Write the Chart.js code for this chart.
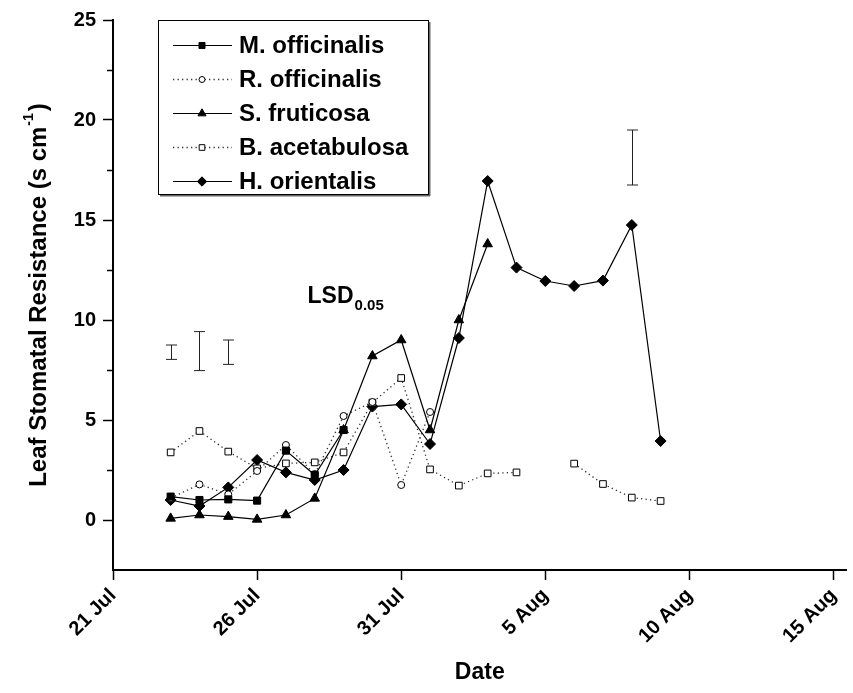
<!DOCTYPE html>
<html>
<head>
<meta charset="utf-8">
<title>Leaf Stomatal Resistance</title>
<script src="https://cdn.jsdelivr.net/npm/chart.js@4.4.1/dist/chart.umd.min.js"></script>
<style>
  html, body { margin: 0; padding: 0; background: #fff; }
  #wrap { width: 853px; height: 693px; }
</style>
</head>
<body>
<div id="wrap"><canvas id="chart" width="853" height="693"></canvas></div>
<script>
// Sampling dates; 21 Jul is day 0 on the x axis
const dates = ['23 Jul', '24 Jul', '25 Jul', '26 Jul', '27 Jul', '28 Jul', '29 Jul', '30 Jul', '31 Jul',
  '1 Aug', '2 Aug', '3 Aug', '4 Aug', '5 Aug', '6 Aug', '7 Aug', '8 Aug', '9 Aug'];

// Leaf stomatal resistance (s cm-1) per species
const mOfficinalis = [1.17, 1.0, 1.03, 0.97, 3.47, 2.25, 4.5, null, null, null, null, null, null, null, null, null, null, null];
const rOfficinalis = [1.1, 1.78, 1.28, 2.45, 3.75, 2.3, 5.2, 5.9, 1.75, 5.4, null, null, null, null, null, null, null, null];
const sFruticosa = [0.08, 0.25, 0.17, 0.03, 0.25, 1.08, 4.5, 8.2, 9.0, 4.5, 10.0, 13.8, null, null, null, null, null, null];
const bAcetabulosa = [3.38, 4.45, 3.42, 2.58, 2.83, 2.88, 3.38, 5.87, 7.1, 2.53, 1.72, 2.33, 2.38, null, 2.82, 1.8, 1.12, 0.95];
const hOrientalis = [1.0, 0.7, 1.63, 3.0, 2.38, 2.0, 2.5, 5.67, 5.78, 3.8, 9.1, 16.95, 12.62, 11.95, 11.7, 11.97, 14.75, 3.95];

// LSD (0.05) bars
const lsdDates = ['23 Jul', '24 Jul', '25 Jul', '8 Aug'];
const lsdLow = [8.03, 7.47, 7.78, 16.75];
const lsdHigh = [8.75, 9.42, 9.0, 19.5];

// Axis ticks
const xTickLabels = ['21 Jul', '26 Jul', '31 Jul', '5 Aug', '10 Aug', '15 Aug'];
const yTickValues = [0, 5, 10, 15, 20, 25];
const yMinorValues = [2.5, 7.5, 12.5, 17.5, 22.5];

const FONT = "'Liberation Sans', Arial, sans-serif";

function dayOf(label) {
  const [d, m] = label.split(' ');
  return m === 'Jul' ? Number(d) - 21 : Number(d) + 10;
}

function series(label, values, style) {
  return Object.assign({
    label,
    data: values.map((v, i) => ({ x: dayOf(dates[i]), y: v })),
    borderColor: '#000',
    pointBorderColor: '#000',
    pointBorderWidth: 1,
    spanGaps: false,
    tension: 0
  }, style);
}

const solid = { borderWidth: 1.2, borderDash: [] };
const dotted = { borderWidth: 1.3, borderDash: [1.3, 3.2], borderColor: '#333' };

const datasets = [
  series('M. officinalis', mOfficinalis, Object.assign({ pointStyle: 'rect', pointRadius: 5, pointBackgroundColor: '#000' }, solid)),
  series('R. officinalis', rOfficinalis, Object.assign({ pointStyle: 'circle', pointRadius: 3.5, pointBackgroundColor: '#fff' }, dotted)),
  series('S. fruticosa', sFruticosa, Object.assign({ pointStyle: 'triangle', pointRadius: 5.5, pointBackgroundColor: '#000' }, solid)),
  series('B. acetabulosa', bAcetabulosa, Object.assign({ pointStyle: 'rect', pointRadius: 4.7, pointBackgroundColor: '#fff' }, dotted)),
  series('H. orientalis', hOrientalis, Object.assign({ pointStyle: 'rectRot', pointRadius: 5.5, pointBackgroundColor: '#000' }, solid))
];

// Legend box, LSD bars and labels, minor ticks, y title
const extras = {
  id: 'extras',
  afterDraw(chart) {
    const { ctx, chartArea } = chart;
    const xs = chart.scales.x, ys = chart.scales.y;
    ctx.save();

    // minor ticks on the y axis
    ctx.strokeStyle = '#000';
    ctx.lineWidth = 1.5;
    yMinorValues.forEach(v => {
      const y = Math.round(ys.getPixelForValue(v)) + 0.5;
      ctx.beginPath();
      ctx.moveTo(chartArea.left - 6, y);
      ctx.lineTo(chartArea.left, y);
      ctx.stroke();
    });

    // LSD bars
    ctx.strokeStyle = '#222';
    ctx.lineWidth = 1;
    lsdDates.forEach((d, i) => {
      const x = Math.round(xs.getPixelForValue(dayOf(d))) + 0.5;
      const y1 = ys.getPixelForValue(lsdLow[i]);
      const y2 = ys.getPixelForValue(lsdHigh[i]);
      ctx.beginPath();
      ctx.moveTo(x, y1); ctx.lineTo(x, y2);
      ctx.moveTo(x - 5.5, y1); ctx.lineTo(x + 5.5, y1);
      ctx.moveTo(x - 5.5, y2); ctx.lineTo(x + 5.5, y2);
      ctx.stroke();
    });

    // LSD label with subscript
    ctx.fillStyle = '#000';
    ctx.textBaseline = 'alphabetic';
    ctx.textAlign = 'left';
    const lx = xs.getPixelForValue(6.75), ly = ys.getPixelForValue(10.85);
    ctx.font = 'bold 23px ' + FONT;
    ctx.fillText('LSD', lx, ly);
    const lw = ctx.measureText('LSD').width;
    ctx.font = 'bold 15px ' + FONT;
    ctx.fillText('0.05', lx + lw + 1, ly + 7);

    // legend
    const box = { left: 158, top: 20, right: 428, bottom: 194 };
    ctx.fillStyle = '#fff';
    ctx.fillRect(box.left, box.top, box.right - box.left, box.bottom - box.top);
    ctx.strokeStyle = '#000';
    ctx.lineWidth = 1;
    ctx.strokeRect(box.left + 0.5, box.top + 0.5, box.right - box.left, box.bottom - box.top);
    ctx.fillStyle = '#666';
    ctx.fillRect(box.left + 2, box.bottom + 1, box.right - box.left, 1.5);
    ctx.fillRect(box.right + 1, box.top + 2, 1.5, box.bottom - box.top);

    chart.data.datasets.forEach((ds, i) => {
      const y = 45 + i * 34;
      ctx.strokeStyle = ds.borderColor;
      ctx.lineWidth = ds.borderWidth;
      ctx.setLineDash(ds.borderDash);
      ctx.beginPath();
      ctx.moveTo(173, y + 0.5);
      ctx.lineTo(232, y + 0.5);
      ctx.stroke();
      ctx.setLineDash([]);
      ctx.fillStyle = ds.pointBackgroundColor;
      ctx.strokeStyle = '#000';
      ctx.lineWidth = 1;
      Chart.helpers.drawPoint(ctx, { pointStyle: ds.pointStyle, rotation: 0, radius: ds.pointRadius * 0.85, borderWidth: 1 }, 202, y + 0.5);
      ctx.fillStyle = '#000';
      ctx.font = 'bold 24px ' + FONT;
      ctx.textBaseline = 'middle';
      ctx.fillText(ds.label, 239, y + 1);
    });

    // y axis title with superscript
    const main = 'Leaf Stomatal Resistance (s cm', sup = '-1', tail = ')';
    ctx.font = 'bold 24px ' + FONT;
    const w1 = ctx.measureText(main).width, w3 = ctx.measureText(tail).width;
    ctx.font = 'bold 14px ' + FONT;
    const w2 = ctx.measureText(sup).width;
    const total = w1 + w2 + w3 + 3;
    ctx.translate(39, (chartArea.top + chartArea.bottom) / 2);
    ctx.rotate(-Math.PI / 2);
    ctx.textBaseline = 'middle';
    ctx.font = 'bold 24px ' + FONT;
    ctx.fillText(main, -total / 2, 0);
    ctx.font = 'bold 14px ' + FONT;
    ctx.fillText(sup, -total / 2 + w1 + 1, -10);
    ctx.font = 'bold 24px ' + FONT;
    ctx.fillText(tail, -total / 2 + w1 + w2 + 3, 0);
    ctx.restore();
  }
};

new Chart(document.getElementById('chart'), {
  type: 'line',
  data: { datasets },
  options: {
    responsive: false,
    animation: false,
    layout: { padding: { top: 20, left: 0, right: 0, bottom: 0 } },
    plugins: { legend: { display: false }, tooltip: { enabled: false } },
    scales: {
      x: {
        type: 'linear',
        min: 0,
        max: 25.45,
        afterBuildTicks(scale) { scale.ticks = xTickLabels.map(l => ({ value: dayOf(l) })); },
        afterFit(scale) { scale.height = 123; scale.paddingLeft = 0; scale.paddingRight = 0; },
        ticks: {
          autoSkip: false,
          minRotation: 45,
          maxRotation: 45,
          padding: 4,
          color: '#000',
          font: { family: FONT, size: 20, weight: 'bold' },
          callback: v => xTickLabels.find(l => dayOf(l) === v) || ''
        },
        grid: { drawOnChartArea: false, drawTicks: true, tickLength: 10, tickWidth: 1.5, tickColor: '#000' },
        border: { display: true, color: '#000', width: 2 },
        title: {
          display: true,
          text: 'Date',
          color: '#000',
          font: { family: FONT, size: 23, weight: 'bold' },
          padding: { top: 0, bottom: 7 }
        }
      },
      y: {
        type: 'linear',
        min: -2.5,
        max: 25,
        afterBuildTicks(scale) { scale.ticks = yTickValues.map(v => ({ value: v })); },
        afterFit(scale) { scale.width = 113; },
        ticks: {
          padding: 7,
          color: '#000',
          font: { family: FONT, size: 20, weight: 'bold' }
        },
        grid: { drawOnChartArea: false, drawTicks: true, tickLength: 10, tickWidth: 1.5, tickColor: '#000' },
        border: { display: true, color: '#000', width: 2 }
      }
    }
  },
  plugins: [extras]
});
</script>
</body>
</html>
